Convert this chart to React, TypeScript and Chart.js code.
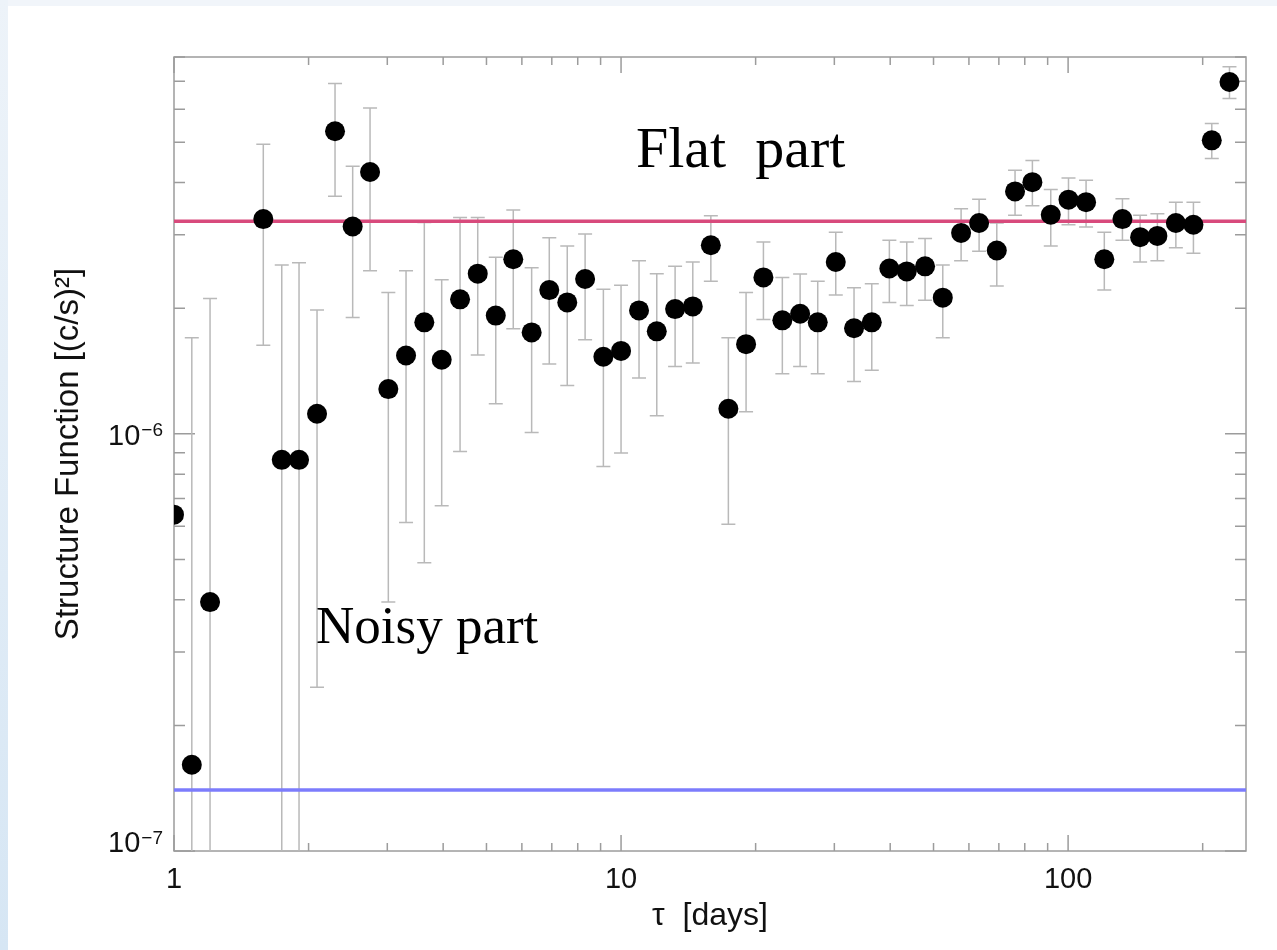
import React, { useEffect, useRef } from 'react';
import { Chart, registerables } from 'chart.js';

Chart.register(...registerables);

const SANS = '"Liberation Sans", Arial, Helvetica, sans-serif';
const SERIF = '"Liberation Serif", "Times New Roman", serif';

// lag tau in days
const tauDays = [
  1.0, 1.096, 1.204, 1.584, 1.742, 1.904, 2.089, 2.292, 2.51, 2.745,
  3.016, 3.304, 3.63, 3.97, 4.364, 4.78, 5.245, 5.74, 6.31, 6.91,
  7.58, 8.31, 9.13, 10.0, 10.97, 12.02, 13.21, 14.47, 15.88, 17.38,
  19.04, 20.82, 22.95, 25.15, 27.54, 30.22, 33.2, 36.38, 39.83, 43.56,
  47.87, 52.44, 57.63, 63.23, 69.26, 76.09, 83.2, 91.46, 100.2, 109.7,
  120.5, 132.3, 144.9, 158.4, 174.2, 190.7, 209.6, 229.6,
];

// structure function values [(c/s)^2]
const structureFn = [
  6.4e-7, 1.61e-7, 3.95e-7, 3.27e-6, 8.66e-7, 8.66e-7, 1.117e-6, 5.31e-6, 3.14e-6, 4.24e-6,
  1.28e-6, 1.54e-6, 1.85e-6, 1.505e-6, 2.10e-6, 2.42e-6, 1.92e-6, 2.62e-6, 1.75e-6, 2.21e-6,
  2.065e-6, 2.35e-6, 1.53e-6, 1.58e-6, 1.976e-6, 1.76e-6, 1.99e-6, 2.02e-6, 2.83e-6, 1.148e-6,
  1.64e-6, 2.37e-6, 1.87e-6, 1.94e-6, 1.85e-6, 2.58e-6, 1.79e-6, 1.85e-6, 2.49e-6, 2.45e-6,
  2.52e-6, 2.12e-6, 3.03e-6, 3.20e-6, 2.75e-6, 3.81e-6, 4.01e-6, 3.35e-6, 3.64e-6, 3.59e-6,
  2.62e-6, 3.27e-6, 2.96e-6, 2.98e-6, 3.20e-6, 3.17e-6, 5.05e-6, 6.97e-6,
];

// lower end of error bars
const errLow = [
  6.4e-7, 1e-8, 1e-8, 1.63e-6, 1e-8, 1e-8, 2.47e-7, 3.71e-6, 1.90e-6, 2.46e-6,
  3.95e-7, 6.13e-7, 4.91e-7, 6.72e-7, 9.07e-7, 1.545e-6, 1.18e-6, 1.785e-6, 1.007e-6, 1.47e-6,
  1.306e-6, 1.68e-6, 8.35e-7, 8.99e-7, 1.36e-6, 1.105e-6, 1.45e-6, 1.477e-6, 2.32e-6, 6.07e-7,
  1.13e-6, 1.88e-6, 1.393e-6, 1.45e-6, 1.393e-6, 2.15e-6, 1.335e-6, 1.42e-6, 2.065e-6, 2.03e-6,
  2.09e-6, 1.70e-6, 2.60e-6, 2.74e-6, 2.26e-6, 3.34e-6, 3.52e-6, 2.82e-6, 3.17e-6, 3.13e-6,
  2.21e-6, 2.91e-6, 2.58e-6, 2.60e-6, 2.79e-6, 2.71e-6, 4.57e-6, 6.36e-6,
];

// upper end of error bars
const errHigh = [
  6.4e-7, 1.70e-6, 2.11e-6, 4.94e-6, 2.54e-6, 2.57e-6, 1.98e-6, 6.91e-6, 4.38e-6, 6.04e-6,
  2.18e-6, 2.46e-6, 3.21e-6, 2.34e-6, 3.30e-6, 3.30e-6, 2.65e-6, 3.44e-6, 2.50e-6, 2.95e-6,
  2.82e-6, 3.01e-6, 2.22e-6, 2.27e-6, 2.60e-6, 2.42e-6, 2.52e-6, 2.58e-6, 3.33e-6, 1.70e-6,
  2.18e-6, 2.88e-6, 2.37e-6, 2.415e-6, 2.32e-6, 3.04e-6, 2.24e-6, 2.29e-6, 2.91e-6, 2.88e-6,
  2.94e-6, 2.54e-6, 3.46e-6, 3.65e-6, 3.20e-6, 4.28e-6, 4.52e-6, 3.85e-6, 4.10e-6, 4.05e-6,
  3.04e-6, 3.66e-6, 3.34e-6, 3.37e-6, 3.59e-6, 3.59e-6, 5.54e-6, 7.58e-6,
];

// reference levels
const flatLevel = 3.23e-6;
const noiseLevel = 1.4e-7;

// axis ranges and ticks
const xRange = [1, 250];
const yRange = [1e-7, 8e-6];
const xMajorTicks = [1, 10, 100];
const xTickLabels = ['1', '10', '100'];
const xMinorTicks = [2, 3, 4, 5, 6, 7, 8, 9, 20, 30, 40, 50, 60, 70, 80, 90, 200];
const yMajorTicks = [1e-7, 1e-6];
const yTickBases = ['10', '10'];
const yTickExponents = ['\u22127', '\u22126'];
const yMinorTicks = [2e-7, 3e-7, 4e-7, 5e-7, 6e-7, 7e-7, 8e-7, 9e-7, 2e-6, 3e-6, 4e-6, 5e-6, 6e-6, 7e-6, 8e-6];

// annotations
const noteTexts = ['Flat  part', 'Noisy part'];
const noteX = [10.8, 2.078];
const noteY = [4.37e-6, 3.155e-7];
const noteSizes = [58, 53];

const FRAME = '#9c9c9c';
const ERR = '#b9b9b9';

const decorPlugin = {
  id: 'decor',
  beforeDatasetsDraw(chart: any) {
    const { ctx, chartArea: a, scales } = chart;
    const xs = scales.x;
    const ys = scales.y;
    ctx.save();
    // frame
    ctx.strokeStyle = FRAME;
    ctx.lineWidth = 1.5;
    ctx.strokeRect(a.left, a.top, a.right - a.left, a.bottom - a.top);
    // x ticks (bottom and top), pointing inward
    const xTick = (v: number, len: number) => {
      const px = xs.getPixelForValue(v);
      ctx.beginPath();
      ctx.moveTo(px, a.bottom);
      ctx.lineTo(px, a.bottom - len);
      ctx.moveTo(px, a.top);
      ctx.lineTo(px, a.top + len);
      ctx.stroke();
    };
    xMajorTicks.forEach((v) => xTick(v, 16));
    xMinorTicks.forEach((v) => xTick(v, 8));
    const yTick = (v: number, len: number) => {
      const py = ys.getPixelForValue(v);
      ctx.beginPath();
      ctx.moveTo(a.left, py);
      ctx.lineTo(a.left + len, py);
      ctx.moveTo(a.right, py);
      ctx.lineTo(a.right - len, py);
      ctx.stroke();
    };
    yMajorTicks.forEach((v) => yTick(v, 21));
    yMinorTicks.forEach((v) => yTick(v, 11));

    // y tick labels with superscript exponents
    ctx.fillStyle = '#111';
    yMajorTicks.forEach((v, i) => {
      const py = ys.getPixelForValue(v);
      const baseline = Math.min(py + 11, a.bottom + 1);
      const right = a.left - 11;
      ctx.font = `19px ${SANS}`;
      ctx.textAlign = 'right';
      ctx.textBaseline = 'alphabetic';
      const expW = ctx.measureText(yTickExponents[i]).width;
      ctx.fillText(yTickExponents[i], right, baseline - 8.5);
      ctx.font = `29px ${SANS}`;
      ctx.fillText(yTickBases[i], right - expW - 1, baseline);
    });

    // error bars
    ctx.beginPath();
    ctx.rect(a.left, a.top, a.right - a.left, a.bottom - a.top);
    ctx.clip();
    ctx.strokeStyle = ERR;
    ctx.lineWidth = 1.5;
    const cap = 7;
    for (let i = 0; i < tauDays.length; i++) {
      if (errLow[i] === errHigh[i]) continue;
      const px = xs.getPixelForValue(tauDays[i]);
      const lo = ys.getPixelForValue(errLow[i]);
      const hi = ys.getPixelForValue(errHigh[i]);
      ctx.beginPath();
      ctx.moveTo(px, lo);
      ctx.lineTo(px, hi);
      ctx.moveTo(px - cap, hi);
      ctx.lineTo(px + cap, hi);
      if (lo < a.bottom) {
        ctx.moveTo(px - cap, lo);
        ctx.lineTo(px + cap, lo);
      }
      ctx.stroke();
    }
    ctx.restore();
  },
  afterDatasetsDraw(chart: any) {
    const { ctx, scales } = chart;
    ctx.save();
    ctx.fillStyle = '#000';
    ctx.textAlign = 'left';
    ctx.textBaseline = 'alphabetic';
    noteTexts.forEach((t, i) => {
      ctx.font = `${noteSizes[i]}px ${SERIF}`;
      ctx.fillText(t, scales.x.getPixelForValue(noteX[i]), scales.y.getPixelForValue(noteY[i]));
    });
    ctx.restore();
  },
};

export default function App() {
  const ref = useRef<HTMLCanvasElement>(null);

  useEffect(() => {
    if (!ref.current) return;
    const points = tauDays.map((x, i) => ({ x, y: structureFn[i] }));
    const chart = new Chart(ref.current, {
      type: 'scatter',
      data: {
        datasets: [
          {
            label: 'Structure function',
            data: points,
            backgroundColor: '#000',
            borderColor: '#000',
            pointRadius: 10,
            pointHoverRadius: 10,
            borderWidth: 0,
          },
          {
            type: 'line',
            label: 'Flat level',
            data: [{ x: xRange[0], y: flatLevel }, { x: xRange[1], y: flatLevel }],
            borderColor: '#d84a7c',
            borderWidth: 3.5,
            pointRadius: 0,
            showLine: true,
          },
          {
            type: 'line',
            label: 'Noise level',
            data: [{ x: xRange[0], y: noiseLevel }, { x: xRange[1], y: noiseLevel }],
            borderColor: '#7c7cfc',
            borderWidth: 3.5,
            pointRadius: 0,
            showLine: true,
          },
        ],
      },
      options: {
        responsive: false,
        animation: false,
        layout: { padding: { top: 57, right: 31, left: 0, bottom: 0 } },
        plugins: {
          legend: { display: false },
          tooltip: { enabled: false },
        },
        scales: {
          x: {
            type: 'logarithmic',
            position: 'bottom',
            min: xRange[0],
            max: xRange[1],
            grid: { display: false, drawTicks: false },
            border: { display: false },
            afterBuildTicks: (s: any) => {
              s.ticks = xMajorTicks.map((v) => ({ value: v }));
            },
            afterFit: (s: any) => {
              s.height = 99;
            },
            ticks: {
              autoSkip: false,
              maxRotation: 0,
              padding: 12,
              color: '#111',
              font: { family: SANS, size: 29 },
              callback: (v: any) => {
                const i = xMajorTicks.indexOf(Number(v));
                return i >= 0 ? xTickLabels[i] : '';
              },
            },
            title: {
              display: true,
              text: '\u03C4  [days]',
              color: '#111',
              font: { family: SANS, size: 32 },
              padding: { top: 0, bottom: 15 },
            },
          },
          y: {
            type: 'logarithmic',
            position: 'left',
            min: yRange[0],
            max: yRange[1],
            grid: { display: false, drawTicks: false },
            border: { display: false },
            afterBuildTicks: (s: any) => {
              s.ticks = yMajorTicks.map((v) => ({ value: v }));
            },
            afterFit: (s: any) => {
              s.width = 174;
            },
            ticks: {
              display: false,
            },
            title: {
              display: true,
              text: 'Structure Function [(c/s)\u00B2]',
              color: '#111',
              font: { family: SANS, size: 33 },
              padding: { top: 49, bottom: 0 },
            },
          },
        },
      },
      plugins: [decorPlugin],
    });
    return () => chart.destroy();
  }, []);

  return (
    <div
      style={{
        position: 'fixed',
        left: 0,
        top: 0,
        width: 1277,
        height: 950,
        background: '#f1f5fa',
        overflow: 'hidden',
      }}
    >
      <div
        style={{
          position: 'absolute',
          left: 0,
          top: 0,
          width: 8,
          height: 950,
          background: 'linear-gradient(to bottom, #edf3f9, #d6e6f4)',
        }}
      />
      <div
        style={{
          position: 'absolute',
          left: 8,
          top: 6,
          width: 1269,
          height: 944,
          background: '#ffffff',
        }}
      />
      <canvas
        ref={ref}
        width={1277}
        height={950}
        style={{ position: 'absolute', left: 0, top: 0, width: 1277, height: 950 }}
      />
    </div>
  );
}
